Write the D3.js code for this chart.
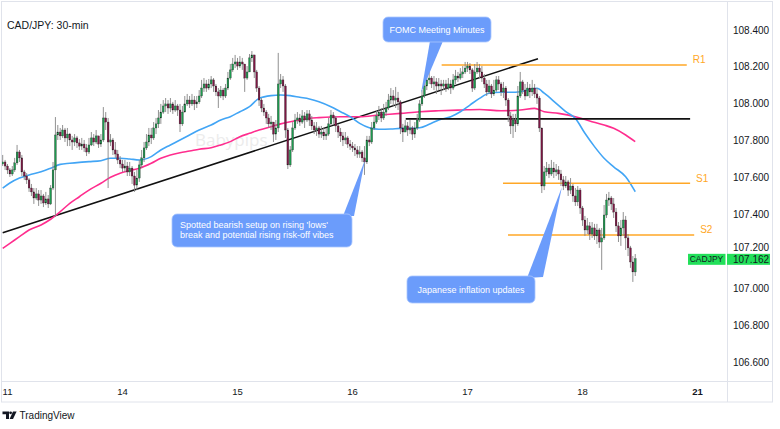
<!DOCTYPE html>
<html><head><meta charset="utf-8">
<script src="https://cdn.jsdelivr.net/npm/d3@7"></script>
<style>
html,body{margin:0;padding:0;background:#fff;}
svg{display:block;font-family:"Liberation Sans",Arial,sans-serif;}
</style></head><body>
<svg id="c" width="780" height="429"></svg>
<script>
// ---------- DATA ----------
const title = "CAD/JPY: 30-min";
const symbol = "CADJPY";
const dayLabels = ["11","14","15","16","17","18","21"];
const dayIndex  = [2, 50, 98, 146, 194, 242, 290];
const priceTicks = [106.6,106.8,107.0,107.2,107.4,107.6,107.8,108.0,108.2,108.4];
const firstOpen = 107.675;
const closes = [
107.686,107.664,107.643,107.621,107.643,107.681,107.740,107.708,107.632,107.610,
107.589,107.545,107.524,107.491,107.513,107.480,107.502,107.464,107.486,107.459,
107.545,107.643,107.832,107.848,107.827,107.859,107.816,107.837,107.805,107.794,
107.816,107.789,107.772,107.783,107.762,107.740,107.778,107.816,107.794,107.827,
107.783,107.805,107.924,107.902,107.794,107.805,107.751,107.729,107.697,107.675,
107.653,107.664,107.632,107.653,107.610,107.561,107.599,107.670,107.708,107.762,
107.794,107.832,107.816,107.870,107.892,107.924,107.956,107.989,108.000,107.978,
108.000,107.967,107.989,107.967,107.892,107.956,108.000,108.021,108.000,108.021,
108.000,108.011,108.043,108.086,108.108,108.086,108.108,108.130,108.097,108.065,
108.043,108.075,108.043,108.086,108.140,108.184,108.216,108.227,108.205,108.227,
108.216,108.140,108.173,108.249,108.265,108.173,108.086,108.021,107.978,107.956,
107.924,107.892,107.902,107.837,107.870,108.108,108.130,108.097,107.859,107.670,
107.751,107.870,107.913,107.924,107.902,107.935,107.913,107.946,107.913,107.881,
107.859,107.870,107.837,107.848,107.827,107.837,107.892,107.940,107.924,107.881,
107.848,107.827,107.805,107.816,107.783,107.772,107.762,107.751,107.729,107.740,
107.708,107.686,107.805,107.794,107.870,107.902,107.935,107.956,107.924,107.956,
107.978,108.021,108.043,108.021,108.032,108.011,107.870,107.848,107.881,107.859,
107.870,107.837,107.870,107.913,108.000,108.043,108.097,108.130,108.140,108.108,
108.119,108.097,108.108,108.097,108.108,108.086,108.108,108.086,108.130,108.151,
108.140,108.162,108.173,108.194,108.205,108.184,108.086,108.173,108.194,108.173,
108.140,108.108,108.065,108.097,108.054,108.075,108.130,108.108,108.065,108.086,
108.021,107.935,107.881,107.913,107.892,108.043,108.119,108.075,108.043,108.086,
108.065,108.086,108.054,108.032,107.870,107.556,107.632,107.653,107.621,107.653,
107.632,107.643,107.621,107.589,107.556,107.578,107.534,107.556,107.502,107.470,
107.534,107.437,107.372,107.318,107.340,107.296,107.329,107.286,107.318,107.253,
107.275,107.399,107.480,107.491,107.459,107.415,107.340,107.286,107.329,107.372,
107.275,107.221,107.145,107.091,107.162];
const highs = [
107.724,107.697,107.675,107.653,107.664,107.708,107.778,107.751,107.724,107.643,
107.626,107.599,107.567,107.545,107.545,107.534,107.534,107.513,107.524,107.507,
107.561,107.686,107.929,107.886,107.870,107.886,107.870,107.870,107.843,107.827,
107.837,107.827,107.810,107.816,107.805,107.783,107.816,107.848,107.837,107.859,
107.827,107.837,107.983,107.956,107.924,107.837,107.816,107.794,107.751,107.718,
107.697,107.697,107.686,107.686,107.664,107.632,107.643,107.697,107.751,107.794,
107.837,107.870,107.870,107.902,107.924,107.967,108.000,108.021,108.032,108.021,
108.032,108.011,108.021,108.000,108.000,107.989,108.043,108.054,108.043,108.054,
108.043,108.043,108.075,108.130,108.140,108.130,108.135,108.151,108.140,108.108,
108.086,108.097,108.086,108.108,108.173,108.216,108.249,108.265,108.249,108.259,
108.249,108.216,108.205,108.270,108.286,108.259,108.184,108.097,108.032,108.000,
107.967,107.946,107.935,107.902,107.913,108.276,108.162,108.151,108.108,107.870,
107.772,107.902,107.946,107.956,107.946,107.967,107.956,107.967,107.967,107.935,
107.902,107.902,107.881,107.881,107.870,107.870,107.924,107.967,107.956,107.935,
107.892,107.870,107.848,107.848,107.827,107.805,107.794,107.783,107.772,107.772,
107.751,107.772,107.827,107.827,107.902,107.935,107.967,107.989,107.978,108.000,
108.011,108.054,108.086,108.075,108.092,108.065,108.021,107.892,107.913,107.902,
107.913,107.881,107.902,107.946,108.021,108.075,108.130,108.162,108.184,108.151,
108.151,108.140,108.140,108.130,108.130,108.130,108.140,108.130,108.162,108.184,
108.173,108.194,108.205,108.227,108.227,108.221,108.194,108.216,108.227,108.216,
108.205,108.162,108.130,108.130,108.108,108.130,108.151,108.151,108.119,108.119,
108.097,108.032,107.956,107.946,107.946,108.097,108.173,108.130,108.108,108.119,
108.108,108.130,108.108,108.086,108.043,107.870,107.664,107.686,107.675,107.697,
107.686,107.675,107.664,107.643,107.610,107.610,107.589,107.599,107.567,107.545,
107.556,107.545,107.448,107.394,107.383,107.361,107.361,107.351,107.351,107.329,
107.329,107.453,107.513,107.524,107.502,107.491,107.437,107.361,107.372,107.415,
107.394,107.296,107.232,107.177,107.188];
const lows = [
107.664,107.643,107.621,107.605,107.610,107.632,107.670,107.686,107.610,107.589,
107.567,107.524,107.502,107.459,107.480,107.448,107.459,107.442,107.453,107.437,
107.453,107.534,107.388,107.805,107.805,107.816,107.794,107.772,107.772,107.751,
107.772,107.762,107.751,107.751,107.740,107.718,107.729,107.772,107.772,107.783,
107.762,107.767,107.794,107.859,107.545,107.772,107.724,107.708,107.675,107.653,
107.632,107.632,107.610,107.610,107.567,107.524,107.534,107.578,107.653,107.686,
107.751,107.772,107.783,107.805,107.837,107.870,107.892,107.946,107.956,107.946,
107.956,107.946,107.956,107.935,107.848,107.881,107.967,107.989,107.978,107.989,
107.967,107.978,108.000,108.032,108.065,108.065,108.075,108.086,108.065,108.043,
107.978,108.032,108.021,108.032,108.075,108.130,108.173,108.194,108.184,108.194,
108.184,108.065,108.130,108.173,108.227,108.140,108.065,107.989,107.956,107.935,
107.892,107.870,107.859,107.794,107.805,107.848,108.086,108.065,107.816,107.648,
107.659,107.740,107.859,107.892,107.881,107.892,107.870,107.902,107.881,107.859,
107.837,107.827,107.816,107.816,107.805,107.805,107.827,107.881,107.892,107.848,
107.816,107.794,107.772,107.783,107.762,107.751,107.740,107.718,107.708,107.708,
107.686,107.616,107.675,107.772,107.783,107.859,107.892,107.913,107.902,107.913,
107.935,107.967,108.000,107.989,107.978,107.967,107.837,107.794,107.848,107.827,
107.837,107.805,107.816,107.859,107.902,107.989,108.032,108.075,108.108,108.086,
108.075,108.054,108.075,108.048,108.075,108.065,108.075,108.054,108.075,108.108,
108.119,108.130,108.140,108.162,108.173,108.162,108.065,108.075,108.162,108.140,
108.119,108.086,108.043,108.054,108.032,108.043,108.065,108.075,108.043,108.032,
107.989,107.902,107.837,107.816,107.848,107.881,108.032,108.054,108.021,108.043,
108.032,108.043,108.032,108.000,107.848,107.518,107.534,107.610,107.599,107.610,
107.599,107.610,107.589,107.556,107.534,107.545,107.502,107.513,107.470,107.448,
107.448,107.405,107.340,107.286,107.296,107.264,107.275,107.264,107.242,107.221,
107.102,107.264,107.383,107.448,107.426,107.383,107.307,107.253,107.232,107.286,
107.210,107.177,107.113,107.037,107.069];
// moving averages: [bar index, value]
const maFastIdx = [0,3,7,11,16,20,24,28,32,36,41,45,49,53,57,62,66,70,74,78,82,87,91,95,99,103,107,112,116,120,124,128,132,137,141,145,149,153,157,162,166,170,174,178,182,187,191,195,199,203,208,212,216,220,223,226,231,235,239,243,247,251,255,260,264];
const maFastVal = [107.544,107.572,107.599,107.616,107.633,107.652,107.673,107.679,107.684,107.688,107.693,107.706,107.706,107.702,107.697,107.715,107.751,107.778,107.805,107.832,107.859,107.886,107.913,107.931,107.958,107.985,108.030,108.045,108.048,108.045,108.036,108.027,108.012,107.985,107.958,107.931,107.895,107.871,107.863,107.864,107.868,107.868,107.871,107.890,107.913,107.931,107.958,107.994,108.030,108.058,108.063,108.063,108.066,108.079,108.085,108.058,108.003,107.958,107.922,107.841,107.769,107.706,107.660,107.606,107.525];
const maSlowIdx = [0,3,7,11,16,20,24,28,32,36,41,45,49,53,57,62,66,70,74,78,82,87,91,95,99,103,107,112,116,120,124,128,132,141,149,157,166,174,182,191,199,208,216,222,226,232,239,245,251,255,260,264];
const maSlowVal = [107.219,107.246,107.282,107.318,107.345,107.376,107.417,107.462,107.498,107.534,107.571,107.603,107.625,107.639,107.652,107.679,107.706,107.724,107.736,107.745,107.755,107.763,107.778,107.796,107.823,107.841,107.859,107.877,107.892,107.904,107.913,107.922,107.926,107.931,107.931,107.940,107.949,107.958,107.963,107.967,107.970,107.963,107.967,107.976,107.958,107.949,107.931,107.908,107.886,107.868,107.832,107.796];
// drawn levels
const levelNames = ["R1","S1","S2"];
const levelValues = [108.211, 107.571, 107.291];
const levelFrom = [183.2, 208.8, 210.9];
const levelTo = [285.5, 286.9, 288.6];
const pivotLine = {value:107.919, from:168.2, to:286.9};
const trendLine = [[0,107.303],[223.4,108.245]];
// callouts: text lines + point they refer to [bar index, price]
const notes = [
  {lines:["FOMC Meeting Minutes"], at:[174.6,108.059]},
  {lines:["Spotted bearish setup on rising 'lows'","break and potential rising risk-off vibes"], at:[151.2,107.697]},
  {lines:["Japanese inflation updates"], at:[233.4,107.551]}
];

// ---------- LAYOUT ----------
const svg = d3.select("#c");
const plotL = 2, plotR = 727.5, plotT = 2, plotB = 381;
const x = d3.scaleLinear().domain([0, 290]).range([2.7, 2.7 + 2.396*290]);
const y = d3.scaleLinear().domain([106.6, 108.4]).range([362.7, 30]);
const ink = "#131722", grid = "#e0e3eb";

// frame
svg.append("rect").attr("x",1.5).attr("y",1.5).attr("width",771).attr("height",400.5)
  .attr("fill","none").attr("stroke",grid).attr("stroke-width",1);
svg.append("line").attr("x1",1.5).attr("x2",772.5).attr("y1",381.5).attr("y2",381.5).attr("stroke",grid);
svg.append("line").attr("x1",727.5).attr("x2",727.5).attr("y1",1.5).attr("y2",402).attr("stroke",grid);

const defs = svg.append("defs");
defs.append("clipPath").attr("id","clip").append("rect")
  .attr("x",plotL).attr("y",plotT).attr("width",plotR-plotL).attr("height",plotB-plotT);
const g = svg.append("g").attr("clip-path","url(#clip)");

// watermark
g.append("text").attr("x",195).attr("y",146).attr("font-size",17).attr("fill","#ececec")
  .attr("font-family","'Open Sans',sans-serif").text("Babypips");

// trend line
g.append("line").attr("x1",x(trendLine[0][0])).attr("y1",y(trendLine[0][1]))
  .attr("x2",x(trendLine[1][0])).attr("y2",y(trendLine[1][1]))
  .attr("stroke","#111").attr("stroke-width",1.6);

// MAs
const line = d3.line().x(d=>x(d[0])).y(d=>y(d[1])).curve(d3.curveMonotoneX);
g.append("path").datum(maSlowIdx.map((v,i)=>[v,maSlowVal[i]])).attr("d",line)
  .attr("fill","none").attr("stroke","#ff2d8e").attr("stroke-width",1.6);
g.append("path").datum(maFastIdx.map((v,i)=>[v,maFastVal[i]])).attr("d",line)
  .attr("fill","none").attr("stroke","#42a5f5").attr("stroke-width",1.6);

// levels
g.append("line").attr("x1",x(pivotLine.from)).attr("x2",x(pivotLine.to))
  .attr("y1",y(pivotLine.value)).attr("y2",y(pivotLine.value)).attr("stroke","#111").attr("stroke-width",1.6);
levelNames.forEach((n,k)=>{
  g.append("line").attr("x1",x(levelFrom[k])).attr("x2",x(levelTo[k]))
    .attr("y1",y(levelValues[k])).attr("y2",y(levelValues[k])).attr("stroke","#ffa726").attr("stroke-width",1.6);
  g.append("text").attr("x",x(levelTo[k])+6).attr("y",y(levelValues[k])-1.5)
    .attr("font-size",10).attr("fill","#ffa726").text(n);
});

// candles
const data = closes.map((c,i)=>{
  const o = i===0 ? firstOpen : closes[i-1];
  return {i, o, c, h:Math.max(highs[i],o,c), l:Math.min(lows[i],o,c)};
});
const cg = g.append("g");
cg.selectAll("line.w").data(data).join("line").attr("class","w")
  .attr("x1",d=>x(d.i)).attr("x2",d=>x(d.i)).attr("y1",d=>y(d.h)).attr("y2",d=>y(d.l))
  .attr("stroke","#858585").attr("stroke-width",0.9);
cg.selectAll("rect").data(data).join("rect")
  .attr("x",d=>x(d.i)-0.9).attr("width",1.8)
  .attr("y",d=>y(Math.max(d.o,d.c)))
  .attr("height",d=>Math.max(0.8, Math.abs(y(d.o)-y(d.c))))
  .attr("fill",d=>d.c>=d.o ? "#1d9a4f" : "#7d1744")
  .attr("stroke","#222").attr("stroke-width",0.3);

// callouts
const noteBoxes = [
  {x:383, y:17, w:108, h:25, tx:437, ty:[33], anchor:"middle", base:[[430,41],[443,41]]},
  {x:172, y:214, w:180, h:33, tx:180, ty:[227.5,238], anchor:"start", base:[[343,216],[354,216]]},
  {x:407, y:276, w:128, h:27, tx:471, ty:[293], anchor:"middle", base:[[527,278],[543,277]]}
];
const blue = "#6b9cfb";
notes.forEach((n,k)=>{
  const b = noteBoxes[k];
  const ng = svg.append("g");
  ng.append("path").attr("d",`M${b.base[0][0]},${b.base[0][1]}L${x(n.at[0])},${y(n.at[1])}L${b.base[1][0]},${b.base[1][1]}Z`)
    .attr("fill",blue);
  ng.append("rect").attr("x",b.x).attr("y",b.y).attr("width",b.w).attr("height",b.h).attr("rx",5)
    .attr("fill",blue).attr("stroke","#a9c6ff").attr("stroke-width",0.8);
  n.lines.forEach((t,j)=>{
    ng.append("text").attr("x",b.tx).attr("y",b.ty[j]).attr("text-anchor",b.anchor)
      .attr("font-size",9).attr("fill","#fff").text(t);
  });
});

// last price label geometry
const last = closes[closes.length-1];
const ly = y(last);
const boxTop = ly - 5, boxH = 11;

// price axis: a tick that would run under the price label sits just above it
svg.append("g").selectAll("text").data(priceTicks).join("text")
  .attr("x",733).attr("y",d=>{
    const b = y(d)+3.5;
    return Math.abs(y(d)-ly) < 12 ? Math.min(b, boxTop-2.4) : b;
  })
  .attr("font-size",10).attr("fill",ink)
  .text(d=>d3.format(".3f")(d));

svg.append("rect").attr("x",688).attr("y",boxTop).attr("width",37.5).attr("height",boxH).attr("fill","#22e05a");
svg.append("text").attr("x",706.5).attr("y",boxTop+8.3).attr("text-anchor","middle").attr("font-size",8.5)
  .attr("fill",ink).text(symbol);
svg.append("rect").attr("x",727).attr("y",boxTop).attr("width",43).attr("height",boxH).attr("fill","#22e05a");
svg.append("text").attr("x",733).attr("y",boxTop+8.8).attr("font-size",10).attr("fill",ink)
  .text(d3.format(".3f")(last));

// time axis
svg.append("g").selectAll("text").data(dayLabels).join("text")
  .attr("x",(d,i)=>x(dayIndex[i])).attr("y",395).attr("text-anchor","middle")
  .attr("font-size",9.5).attr("fill",ink).attr("font-weight",(d,i)=>i===dayLabels.length-1?"bold":"normal")
  .text(d=>d);

// title
svg.append("text").attr("x",7).attr("y",29).attr("font-size",10.5).attr("fill",ink).text(title);

// TradingView mark
const tv = svg.append("g").attr("fill",ink);
tv.append("path").attr("d","M2.5,411.5h6.5v7.5h-3v-4.8h-3.5z");
tv.append("circle").attr("cx",10.6).attr("cy",412.8).attr("r",1.4);
tv.append("path").attr("d","M13,411.5h3.6l-3.6,7.5h-3.4z");
svg.append("text").attr("x",19.5).attr("y",418.5).attr("font-size",10).attr("fill",ink).text("TradingView");
</script>
</body></html>
